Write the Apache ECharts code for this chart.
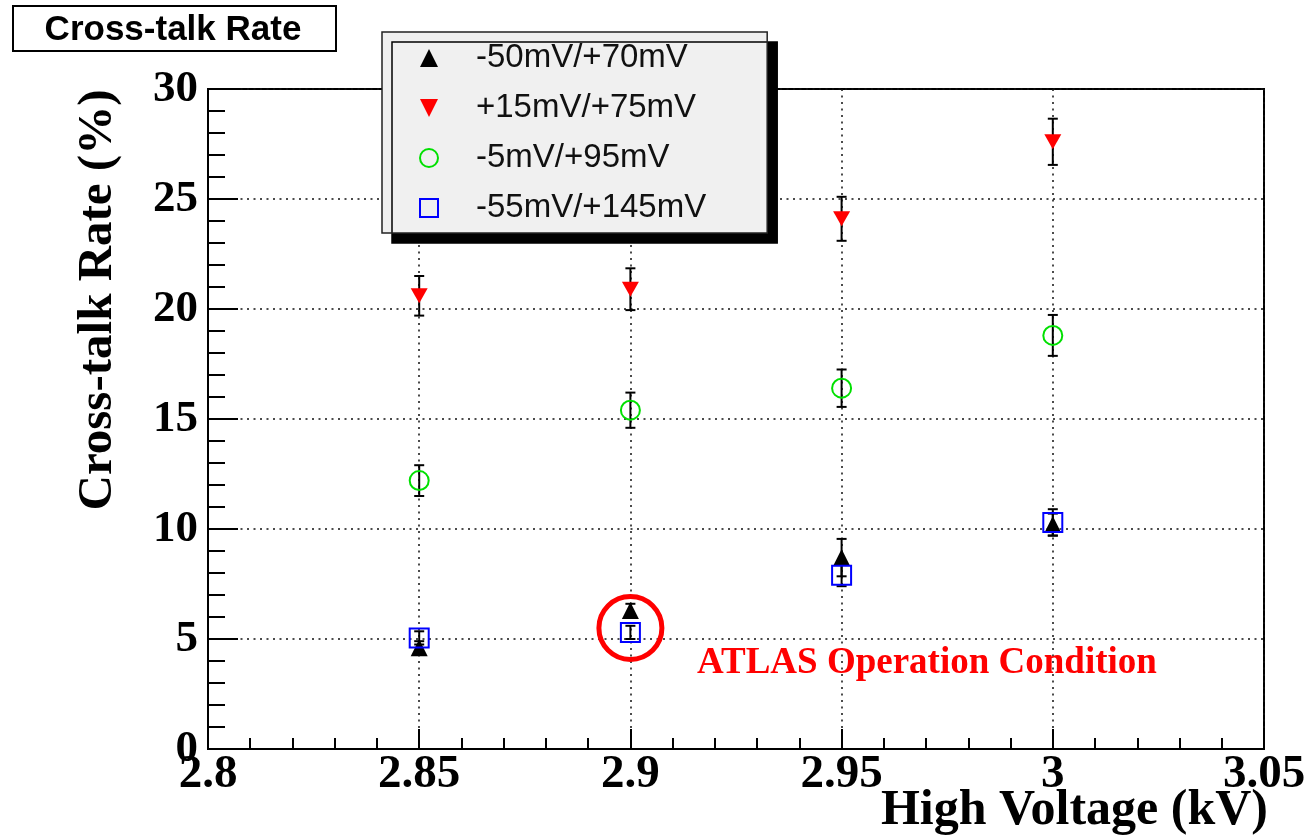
<!DOCTYPE html>
<html>
<head>
<meta charset="utf-8">
<title>Cross-talk Rate</title>
<script src="https://cdn.jsdelivr.net/npm/echarts@6/dist/echarts.min.js"></script>
<style>
  html, body { margin: 0; padding: 0; background: #fff; }
  #chart { width: 1311px; height: 838px; }
</style>
</head>
<body>
<div id="chart"></div>
<script>
// values
const voltage = [2.85, 2.9, 2.95, 3.0];
const seriesNames = ['-50mV/+70mV', '+15mV/+75mV', '-5mV/+95mV', '-55mV/+145mV'];
const rateA = [4.6, 6.3, 8.7, 10.2];
const errA = [0.3, 0.3, 0.85, 0.5];
const rateB = [20.6, 20.9, 24.1, 27.6];
const errB = [0.9, 0.95, 1.0, 1.05];
const rateC = [12.2, 15.4, 16.4, 18.8];
const errC = [0.7, 0.8, 0.85, 0.93];
const rateD = [5.05, 5.3, 7.9, 10.3];
const errD = [0.3, 0.3, 0.5, 0.6];
const xTicks = [2.8, 2.85, 2.9, 2.95, 3.0, 3.05];
const yTicks = [0, 5, 10, 15, 20, 25, 30];
const atlasPoint = [2.9, 5.5];

const downTriangle = 'path://M0,0L10,0L5,10Z';
const serif = 'Liberation Serif';

function points(vals) {
  return voltage.map((v, i) => [v, vals[i]]);
}

function errorBars(name, vals, errs) {
  return {
    type: 'custom',
    name: name,
    silent: true,
    z: 1,
    encode: { x: 0, y: [1, 2] },
    data: voltage.map((v, i) => [v, vals[i] - errs[i], vals[i] + errs[i]]),
    renderItem: function (params, api) {
      const lo = api.coord([api.value(0), api.value(1)]);
      const hi = api.coord([api.value(0), api.value(2)]);
      const cap = 5;
      const st = { stroke: '#000', lineWidth: 2 };
      return {
        type: 'group',
        children: [
          { type: 'line', shape: { x1: lo[0], y1: lo[1], x2: hi[0], y2: hi[1] }, style: st },
          { type: 'line', shape: { x1: lo[0] - cap, y1: lo[1], x2: lo[0] + cap, y2: lo[1] }, style: st },
          { type: 'line', shape: { x1: hi[0] - cap, y1: hi[1], x2: hi[0] + cap, y2: hi[1] }, style: st }
        ]
      };
    }
  };
}

const chart = echarts.init(document.getElementById('chart'));

const gridDots = { type: [2, 4.5], color: '#111', width: 1.5 };

chart.setOption({
  animation: false,
  backgroundColor: '#fff',
  grid: {
    left: 208, right: 47, top: 89, bottom: 89,
    containLabel: false, outerBoundsMode: 'none',
    show: true, borderColor: '#000', borderWidth: 2, backgroundColor: 'transparent'
  },
  legend: {
    orient: 'vertical',
    left: 382, top: 32,
    padding: [9, 61, 8, 37],
    itemWidth: 18, itemHeight: 18, itemGap: 16,
    backgroundColor: '#f0f0f0',
    borderColor: '#222', borderWidth: 1.5,
    shadowColor: '#000', shadowOffsetX: 10, shadowOffsetY: 10, shadowBlur: 0,
    selectedMode: false,
    textStyle: {
      fontFamily: 'Liberation Sans', fontSize: 33, color: '#111',
      lineHeight: 34, padding: [0, 0, 0, 33]
    },
    data: [
      { name: seriesNames[0], icon: 'triangle', itemStyle: { color: '#000' } },
      { name: seriesNames[1], icon: downTriangle, itemStyle: { color: '#ff0000' } },
      { name: seriesNames[2], icon: 'circle', itemStyle: { color: 'transparent', borderColor: '#00e000', borderWidth: 2 } },
      { name: seriesNames[3], icon: 'rect', itemStyle: { color: 'transparent', borderColor: '#0000ff', borderWidth: 2 } }
    ]
  },
  xAxis: {
    type: 'value',
    min: xTicks[0], max: xTicks[xTicks.length - 1], interval: 0.05,
    axisLine: { lineStyle: { color: '#000', width: 2 } },
    axisTick: { inside: true, length: 20, lineStyle: { color: '#000', width: 2 } },
    minorTick: { show: true, splitNumber: 5, length: 11, lineStyle: { color: '#000', width: 2 } },
    splitLine: { show: true, lineStyle: gridDots },
    axisLabel: {
      fontFamily: serif, fontWeight: 'bold', fontSize: 47, color: '#000', margin: 2,
      formatter: v => String(Number(v.toFixed(2)))
    }
  },
  yAxis: {
    type: 'value',
    min: yTicks[0], max: yTicks[yTicks.length - 1], interval: 5,
    name: 'Cross-talk Rate (%)',
    nameLocation: 'middle', nameGap: 110,
    nameTextStyle: {
      fontFamily: serif, fontWeight: 'bold', fontSize: 49, color: '#000',
      verticalAlign: 'middle', padding: [0, 0, 0, 238]
    },
    axisLine: { lineStyle: { color: '#000', width: 2 } },
    axisTick: { inside: true, length: 30, lineStyle: { color: '#000', width: 2 } },
    minorTick: { show: true, splitNumber: 5, length: 17, lineStyle: { color: '#000', width: 2 } },
    splitLine: { show: true, lineStyle: gridDots },
    axisLabel: { fontFamily: serif, fontWeight: 'bold', fontSize: 45, color: '#000', margin: 10 }
  },
  graphic: [
    {
      type: 'rect', left: 12, top: 5, z: 10,
      shape: { width: 323, height: 45 },
      style: { fill: '#fff', stroke: '#000', lineWidth: 2 }
    },
    {
      type: 'text', x: 173, y: 30, z: 11,
      style: {
        text: 'Cross-talk Rate', fill: '#000',
        font: 'bold 35px "Liberation Sans"', textAlign: 'center', textVerticalAlign: 'middle'
      }
    },
    {
      // x axis title
      type: 'text', x: 1268, y: 811, z: 11,
      style: {
        text: 'High Voltage (kV)', fill: '#000',
        font: 'bold 50px "Liberation Serif"', textAlign: 'right', textVerticalAlign: 'middle'
      }
    },
    {
      type: 'text', x: 697, y: 663, z: 11,
      style: {
        text: 'ATLAS Operation Condition', fill: '#ff0000',
        font: 'bold 37px "Liberation Serif"', textAlign: 'left', textVerticalAlign: 'middle'
      }
    }
  ],
  series: [
    errorBars('errA', rateA, errA),
    errorBars('errB', rateB, errB),
    errorBars('errC', rateC, errC),
    errorBars('errD', rateD, errD),
    {
      type: 'scatter', name: seriesNames[0], z: 3,
      symbol: 'triangle', symbolSize: 17,
      itemStyle: { color: '#000', opacity: 1 },
      data: points(rateA)
    },
    {
      type: 'scatter', name: seriesNames[1], z: 3,
      symbol: downTriangle, symbolSize: [17, 15],
      itemStyle: { color: '#ff0000', opacity: 1 },
      data: points(rateB)
    },
    {
      type: 'scatter', name: seriesNames[2], z: 3,
      symbol: 'circle', symbolSize: 19,
      itemStyle: { color: 'transparent', borderColor: '#00e000', borderWidth: 2, opacity: 1 },
      data: points(rateC)
    },
    {
      type: 'scatter', name: seriesNames[3], z: 4,
      symbol: 'rect', symbolSize: 19,
      itemStyle: { color: 'transparent', borderColor: '#0000ff', borderWidth: 2, opacity: 1 },
      data: points(rateD),
      markPoint: {
        silent: true,
        symbol: 'circle', symbolSize: 63,
        itemStyle: { color: 'transparent', borderColor: '#ff0000', borderWidth: 5 },
        label: { show: false },
        data: [{ coord: atlasPoint }]
      }
    }
  ]
});
</script>
</body>
</html>
